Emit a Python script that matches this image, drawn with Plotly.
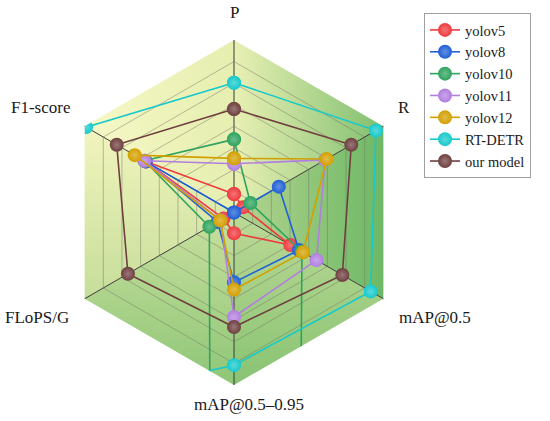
import math
import plotly.graph_objects as go

# ---------------- data ----------------
categories = ['P', 'R', 'mAP@0.5', 'mAP@0.5–0.95', 'FLoPS/G', 'F1-score']
model_names = ['yolov5', 'yolov8', 'yolov10', 'yolov11', 'yolov12', 'RT-DETR', 'our model']

yolov5 = [0.107, 0.06, 0.377, 0.12, 0.07, 0.59]
yolov8 = [0.0, 0.30, 0.435, 0.405, 0.11, 0.59]
yolov10 = [0.424, 0.11, 0.455, 50.0, 0.165, 0.60]
yolov11 = [0.283, 0.61, 0.552, 0.606, 0.09, 0.60]
yolov12 = [0.314, 0.62, 0.462, 0.447, 0.092, 0.665]
rt_detr = [0.752, 0.95, 0.915, 0.885, 2.83, 0.99]
our_model = [0.60, 0.785, 0.725, 0.664, 0.71, 0.785]

series = [yolov5, yolov8, yolov10, yolov11, yolov12, rt_detr, our_model]

# ---------------- styles ----------------
colors = ['#ef3a3f', '#1f5fd6', '#2ea35e', '#b27fe0', '#d3a000', '#16c9cc', '#6f3f3f']
FONT = 'Liberation Serif'

W, H = 550, 421
CX, CY, RAD = 234.0, 212.5, 172.5   # pixel geometry of the radar
dom_x = [(CX - RAD) / W, (CX + RAD) / W]
dom_y = [(H - CY - RAD) / H, (H - CY + RAD) / H]


def tint(hexc, t):
    h = hexc.lstrip('#')
    r, g, b = (int(h[i:i + 2], 16) for i in (0, 2, 4))
    r = int(r + (255 - r) * t)
    g = int(g + (255 - g) * t)
    b = int(b + (255 - b) * t)
    return '#%02x%02x%02x' % (r, g, b)


fig = go.Figure()

# ---------------- gradient background (decorative hexagon) ----------------
verts = [(math.cos(math.radians(90 - 60 * k)), math.sin(math.radians(90 - 60 * k))) for k in range(6)]
sector_styles = [
    ('horizontal', 0.0, 0.866, '#e9f0b4', '#80bf6f'),    # P - R
    ('horizontal', 0.0, 0.866, '#b5d58f', '#6db866'),    # R - mAP@0.5
    ('vertical', -1.0, 0.0, '#88c373', '#bcd995'),       # mAP@0.5 - mAP@0.5-0.95
    ('vertical', -1.0, 0.0, '#8ec677', '#c9e09e'),       # mAP@0.5-0.95 - FLoPS
    ('vertical', -0.5, 0.5, '#c6dd9a', '#f2f5be'),       # FLoPS - F1
    ('horizontal', -0.866, 0.0, '#f6f8c6', '#e6eeb0'),   # F1 - P
]
for k, (gtype, start, stop, c0, c1) in enumerate(sector_styles):
    a, b = verts[k], verts[(k + 1) % 6]
    fig.add_trace(go.Scatter(
        x=[0, a[0], b[0], 0], y=[0, a[1], b[1], 0],
        mode='lines', line=dict(width=0), fill='toself',
        fillgradient=dict(type=gtype, start=start, stop=stop,
                          colorscale=[[0, c0], [1, c1]]),
        hoverinfo='skip', showlegend=False, xaxis='x', yaxis='y'))

# ---------------- radar traces ----------------
for name, vals, col in zip(model_names, series, colors):
    fig.add_trace(go.Scatterpolar(
        r=vals + vals[:1], theta=categories + categories[:1],
        mode='lines+markers', name=name,
        line=dict(color=col, width=1.6),
        marker=dict(size=14, color=col, line=dict(width=0),
                    gradient=dict(type='radial', color=tint(col, 0.3))),
        cliponaxis=True))

# ---------------- axis labels ----------------
label_px = [(234, 13), (404, 108), (435, 317), (249, 404), (37, 317), (40, 108)]
annotations = [dict(text=t, x=px / W, y=1 - py / H,
                    xref='paper', yref='paper',
                    xanchor='center', yanchor='middle', showarrow=False,
                    font=dict(family=FONT, size=17, color='#1a1a1a'))
               for t, (px, py) in zip(categories, label_px)]

fig.update_layout(
    width=W, height=H, template='none',
    font=dict(family=FONT, color='#1a1a1a'),
    margin=dict(l=0, r=0, t=0, b=0),
    paper_bgcolor='white', plot_bgcolor='rgba(0,0,0,0)',
    xaxis=dict(domain=dom_x, range=[-1, 1], visible=False, fixedrange=True),
    yaxis=dict(domain=dom_y, range=[-1, 1], visible=False, fixedrange=True),
    polar=dict(
        domain=dict(x=dom_x, y=dom_y),
        bgcolor='rgba(0,0,0,0)',
        gridshape='linear',
        angularaxis=dict(direction='clockwise', rotation=90,
                         showticklabels=False, ticks='', showline=False,
                         gridcolor='#3a3a3a', gridwidth=1.1),
        radialaxis=dict(range=[0, 1], dtick=0.125, showticklabels=False,
                        ticks='', showline=False, angle=90,
                        gridcolor='rgba(110,110,100,0.45)', gridwidth=1),
    ),
    legend=dict(x=424 / W, y=1 - 13 / H, xanchor='left', yanchor='top',
                bgcolor='white', bordercolor='#a0a0a0', borderwidth=1,
                font=dict(family=FONT, size=14.5, color='#1a1a1a'),
                tracegroupgap=0),
    annotations=annotations,
    showlegend=True,
)

fig.write_html('out.html',
               config={'displayModeBar': False},
               post_script="document.body.style.margin='0px';")
